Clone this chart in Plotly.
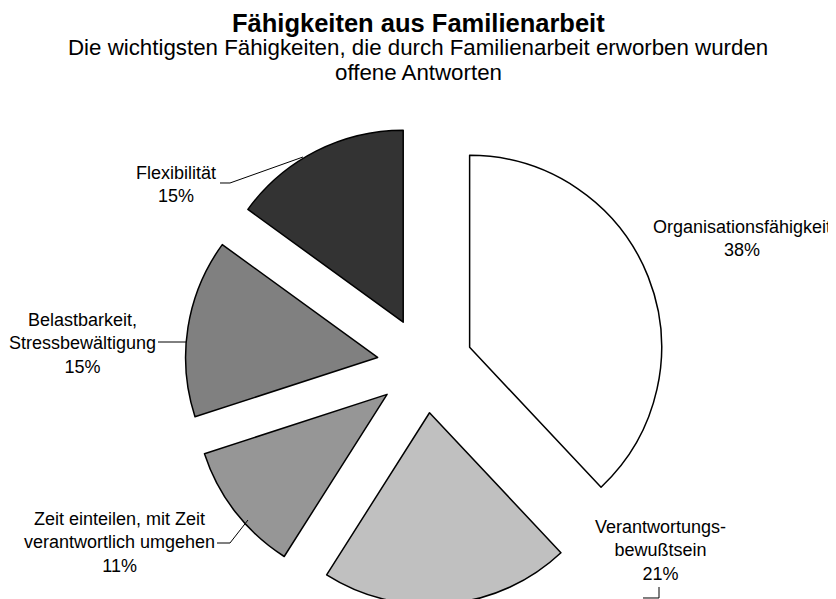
import plotly.graph_objects as go

# ---- data ----
categories = ["Organisationsfähigkeit", "Verantwortungsbewußtsein",
              "Zeit einteilen, mit Zeit verantwortlich umgehen",
              "Belastbarkeit, Stressbewältigung", "Flexibilität"]
label_text = ["Organisationsfähigkeit", "Verantwortungs-<br>bewußtsein",
              "Zeit einteilen, mit Zeit<br>verantwortlich umgehen",
              "Belastbarkeit,<br>Stressbewältigung", "Flexibilität"]
values = [38, 21, 11, 15, 15]
colors = ["#FFFFFF", "#C0C0C0", "#969696", "#808080", "#333333"]

title = "Fähigkeiten aus Familienarbeit"
subtitle1 = "Die wichtigsten Fähigkeiten, die durch Familienarbeit erworben wurden"
subtitle2 = "offene Antworten"

W, H = 836, 599
OFF = 8  # default page body margin
FONT = "Arial, Liberation Sans, sans-serif"


def px(x, y):
    """page pixel -> paper coords (figure is drawn at an 8px body offset)"""
    return (x - OFF) / W, 1 - (y - OFF) / H


# pie: centre about (425, 365) on the page, radius ~192, pull 0.25
fig = go.Figure(go.Pie(
    labels=categories,
    values=values,
    sort=False,
    direction="clockwise",
    rotation=0,
    pull=[0.25] * len(values),
    marker=dict(colors=colors, line=dict(color="black", width=1.5)),
    textinfo="none",
    hoverinfo="label+percent",
    showlegend=False,
    domain=dict(x=[0.0, 0.9976], y=[0.0034, 0.8047]),
))

annotations = []
# title (anchored at the top edge so its box stays inside the figure)
tx, _ = px(418, 0)
annotations.append(dict(text=f"<b>{title}</b>", x=tx, y=1.0, xref="paper", yref="paper",
                        xanchor="center", yanchor="top", showarrow=False, borderpad=0,
                        font=dict(family=FONT, size=25.5, color="black")))
# subtitle lines
for text, (cx, cy), size in [
    (subtitle1, (418, 48), 22.3),
    (subtitle2, (418, 72), 22.3),
]:
    x, y = px(cx, cy)
    annotations.append(dict(text=text, x=x, y=y, xref="paper", yref="paper",
                            xanchor="center", yanchor="middle", showarrow=False,
                            font=dict(family=FONT, size=size, color="black")))

# slice labels
label_pos = [(742, 238), (660, 550), (119, 542), (82, 343), (176, 185)]
for t, v, (cx, cy) in zip(label_text, values, label_pos):
    x, y = px(cx, cy)
    annotations.append(dict(text=f"{t}<br>{v}%", x=x, y=y, xref="paper", yref="paper",
                            xanchor="center", yanchor="middle", showarrow=False,
                            align="center",
                            font=dict(family=FONT, size=18, color="black")))

# leader lines
leaders = [
    [(220, 183), (230, 183), (303, 157)],
    [(158, 342), (186, 342)],
    [(217, 543), (230, 543), (248, 520)],
    [(659, 587), (659, 598), (643, 598)],
]
shapes = []
for pts in leaders:
    path = ""
    for i, (a, b) in enumerate(pts):
        x, y = px(a, b)
        path += ("M" if i == 0 else " L") + f" {x:.5f} {y:.5f}"
    shapes.append(dict(type="path", path=path, xref="paper", yref="paper",
                       line=dict(color="black", width=1)))

fig.update_layout(
    width=W, height=H,
    margin=dict(l=0, r=0, t=0, b=0),
    paper_bgcolor="white", plot_bgcolor="white",
    annotations=annotations,
    shapes=shapes,
    font=dict(family=FONT, color="black"),
)

fig.write_html("out.html")
